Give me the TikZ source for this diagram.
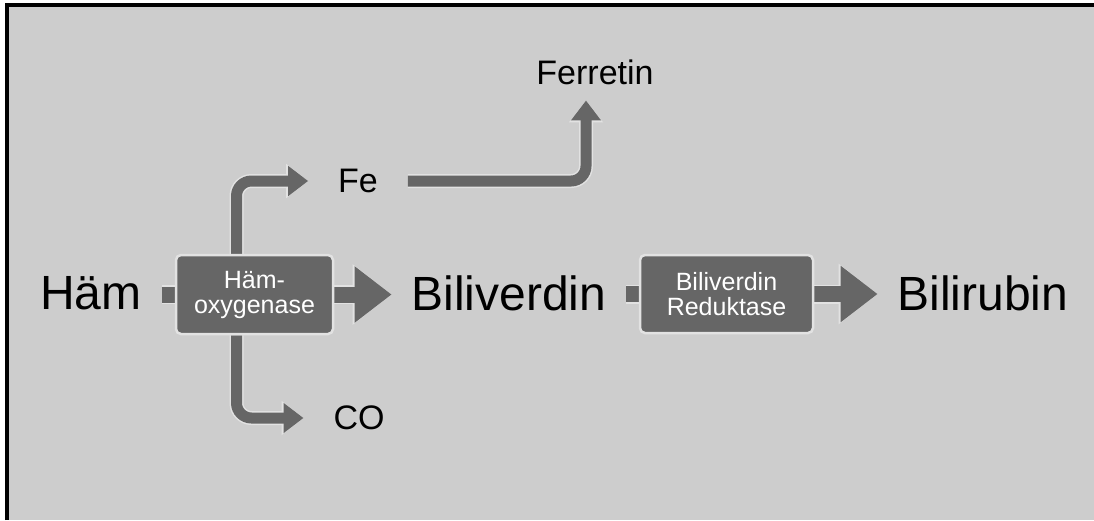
\documentclass[tikz,border=0pt]{standalone}
\usepackage{fontspec}
\setmainfont{Liberation Sans}
\usetikzlibrary{arrows.meta,calc}
\definecolor{bg}{HTML}{CDCDCD}
\definecolor{dk}{HTML}{666666}
\definecolor{glow}{HTML}{E2E2E2}
\pgfdeclarelayer{base}
\pgfdeclarelayer{links}
\pgfsetlayers{base,links,main}
\begin{document}
\begin{tikzpicture}[x=1pt,y=-1pt,
  biglabel/.style={font=\fontsize{48}{48}\selectfont, inner sep=0pt, outer xsep=20pt, text=black},
  smalllabel/.style={font=\fontsize{34}{34}\selectfont, inner sep=0pt, outer xsep=30pt, outer ysep=16pt, text=black},
  enz/.style={fill=dk, rounded corners=5pt, text=white, align=center,
    font=\fontsize{25}{25}\selectfont, draw=glow, line width=2.5pt, inner sep=0pt},
  stubbar/.style={draw=dk, line width=16pt, preaction={draw=glow, line width=19pt}},
  mainarrow/.style={draw=dk, line width=16pt, -{Triangle[width=54pt,length=37pt]},
    preaction={draw=glow, line width=19pt, -{Triangle[width=58pt,length=39pt]}}},
  sidearrow/.style={draw=dk, line width=11pt, rounded corners=15pt, -{Triangle[width=29pt,length=20pt]},
    preaction={draw=glow, line width=14pt, -{Triangle[width=33pt,length=22pt]}}},
]
\begin{pgfonlayer}{base}
\useasboundingbox (0,0) rectangle (1094,520);
\fill[white] (0,0) rectangle (1094,520);
\fill[bg] (5,3) rectangle (1094,520);
\draw[black, line width=4pt] (6.5,520) -- (6.5,5) -- (1094,5);
\end{pgfonlayer}

% labels
\node[biglabel] (ham) at (91,293) {Häm};
\node[biglabel] (bv) at (509,293) {Biliverdin};
\node[biglabel] (br) at (983,293) {Bilirubin};
\node[smalllabel] (fe) at (358,181) {Fe};
\node[smalllabel] (co) at (359,418) {CO};
\node[smalllabel] (fer) at (595,72) {Ferretin};

% enzyme boxes
\node[enz, minimum width=157pt, minimum height=79pt] (hox) at (254.5,294.5) {Häm-\\oxygenase};
\node[enz, minimum width=173pt, minimum height=78pt] (bvr) at (726.5,294) {Biliverdin\\Reduktase};

% connectors (below the boxes)
\begin{pgfonlayer}{links}
\draw[stubbar] (ham.east |- hox) -- (hox.west);
\draw[mainarrow] (hox.east) -- (bv.west |- hox);
\draw[stubbar] (bv.east |- bvr) -- (bvr.west);
\draw[mainarrow] (bvr.east) -- (br.west |- bvr);
\draw[sidearrow] ([xshift=-18pt]hox.north) |- (fe.west);
\draw[sidearrow] ([xshift=-18pt]hox.south) |- (co.west);
\draw[sidearrow] (fe.east) -| ([xshift=-9pt]fer.south);
\end{pgfonlayer}
\end{tikzpicture}
\end{document}
